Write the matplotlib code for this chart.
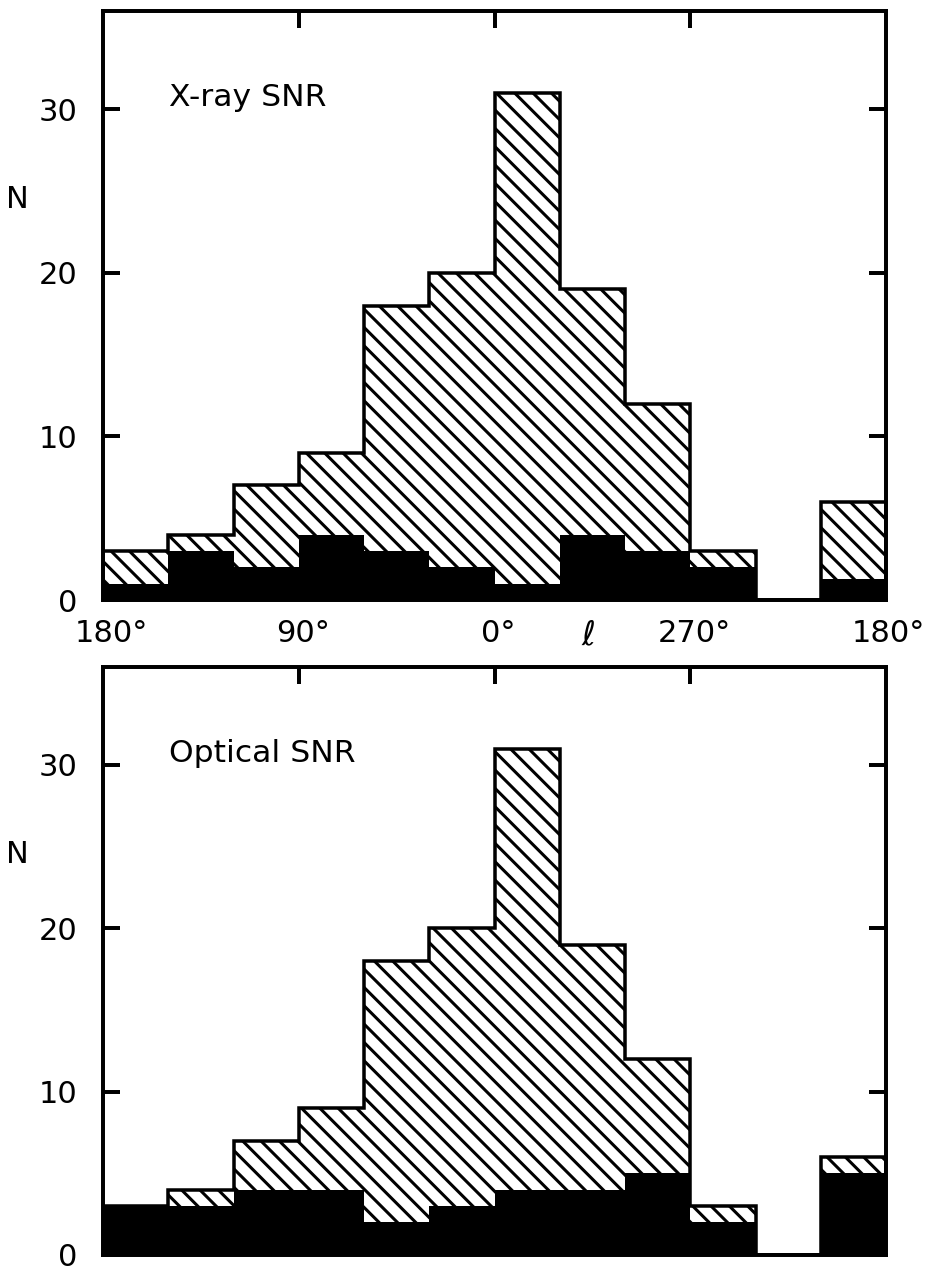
import matplotlib
matplotlib.use('Agg')
import matplotlib.pyplot as plt
import numpy as np

# ---- data -------------------------------------------------------------
# galactic longitude bin edges (30 deg bins), running 180 -> 90 -> 0 -> 270 -> 180
edges_l = [180, 150, 120, 90, 60, 30, 0, 330, 300, 270, 240, 210, 180]
total_snr = [3, 4, 7, 9, 18, 20, 31, 19, 12, 3, 0, 6]        # hatched (all SNR)
xray_snr = [1, 3, 2, 4, 3, 2, 1, 4, 3, 2, 0, 1.3]            # black, top panel
optical_snr = [3, 3, 4, 4, 2, 3, 4, 4, 5, 2, 0, 5]           # black, bottom panel
xtick_l = [180, 90, 0, 270, 180]
xtick_labels = ['180°', '90°', '0°', '270°', '180°']
yticks = [0, 10, 20, 30]
panel_titles = ['X-ray SNR', 'Optical SNR']

# ---- style --------------------------------------------------------------
DPI = 110
plt.rcParams['font.family'] = ['DejaVu Sans']
plt.rcParams['hatch.linewidth'] = 2.0
plt.rcParams['hatch.color'] = 'black'

fig = plt.figure(figsize=(932 / DPI, 1270 / DPI), dpi=DPI)

# plotting coordinate: degrees travelled from l=180 (left edge)
xpos = np.arange(len(edges_l)) * 30.0
tick_pos = [0.0, 90.0, 180.0, 270.0, 360.0]
centers = (xpos[:-1] + xpos[1:]) / 2

rects = [[103 / 932, 1 - 600 / 1270, 783 / 932, 589 / 1270],
         [103 / 932, 1 - 1255 / 1270, 783 / 932, 588 / 1270]]
blacks = [xray_snr, optical_snr]

for i in range(2):
    ax = fig.add_axes(rects[i])
    ax.bar(centers, total_snr, width=30, facecolor='white', edgecolor='black',
           hatch='\\\\', linewidth=0, zorder=1)
    ax.stairs(blacks[i], xpos, fill=True, color='black', zorder=2)
    ax.stairs(total_snr, xpos, baseline=0, color='black', lw=2.3, zorder=3)
    ax.set_xlim(0, 360)
    ax.set_ylim(0, 36)
    for s in ax.spines.values():
        s.set_linewidth(2.6)
    ax.set_yticks(yticks)
    ax.set_yticklabels([str(v) for v in yticks])
    ax.tick_params(axis='y', direction='in', length=11, width=2.6, left=True,
                   right=True, labelsize=20, pad=17)
    ax.set_xticks(tick_pos[1:4])
    ax.tick_params(axis='x', direction='in', length=11, width=2.6, top=True,
                   bottom=False, labelbottom=False, labeltop=False)
    ax.text(30.5, 30.7, panel_titles[i], ha='left', va='center', fontsize=20.5)
    ax.annotate('N', xy=(0, 24.5), xycoords=('axes fraction', 'data'),
                xytext=(-86, 0), textcoords='offset pixels',
                ha='center', va='center', fontsize=20)
    if i == 0:
        for p, lab in zip(tick_pos, xtick_labels):
            dx = 8 if p == 0 else (2 if p == 360 else 4)
            ax.annotate(lab, xy=(p, 0), xycoords=('data', 'axes fraction'),
                        xytext=(dx, -33), textcoords='offset pixels',
                        ha='center', va='center', fontsize=20)
        ax.annotate('\u2113', xy=(223, 0), xycoords=('data', 'axes fraction'),
                    xytext=(0, -35), textcoords='offset pixels',
                    ha='center', va='center', fontsize=22, style='italic')

fig.savefig('out.png', dpi=DPI)
